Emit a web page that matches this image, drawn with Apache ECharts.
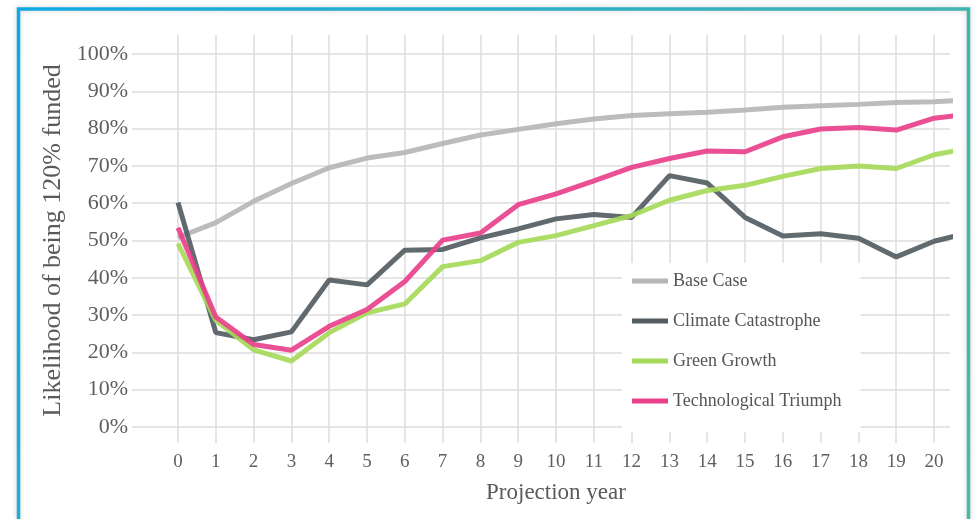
<!DOCTYPE html>
<html>
<head>
<meta charset="utf-8">
<script src="https://cdn.jsdelivr.net/npm/echarts@6/dist/echarts.min.js"></script>
<style>
html,body{margin:0;padding:0;background:#fff;}
#chart{width:975px;height:519px;}
</style>
</head>
<body>
<div id="chart"></div>
<script>
// ---- data ----
const years = [0,1,2,3,4,5,6,7,8,9,10,11,12,13,14,15,16,17,18,19,20,21];
const yTicks = ['0%','10%','20%','30%','40%','50%','60%','70%','80%','90%','100%'];
const xTicks = ['0','1','2','3','4','5','6','7','8','9','10','11','12','13','14','15','16','17','18','19','20'];
const seriesNames = ['Base Case','Climate Catastrophe','Green Growth','Technological Triumph'];
const baseCase = [50.8,54.8,60.5,65.3,69.5,72.1,73.6,76.0,78.3,79.8,81.3,82.6,83.5,84.0,84.4,85.0,85.7,86.1,86.5,87.0,87.2,87.7];
const climateCatastrophe = [60.2,25.3,23.4,25.5,39.4,38.1,47.4,47.6,50.7,53.1,55.8,57.0,56.2,67.4,65.4,56.2,51.2,51.8,50.6,45.6,49.8,52.3];
const greenGrowth = [49.2,28.6,20.7,17.7,25.3,30.6,33.0,43.0,44.6,49.5,51.3,54.0,56.7,60.8,63.4,64.8,67.2,69.3,70.0,69.3,73.0,74.9];
const techTriumph = [53.4,29.5,22.1,20.6,27.0,31.5,39.0,50.1,52.0,59.6,62.5,66.0,69.6,72.0,74.0,73.8,77.8,79.9,80.3,79.6,82.8,84.0];

const colors = ['#b6b6b6','#545d62','#a6d95a','#e8418a'];
const allSeries = [baseCase, climateCatastrophe, greenGrowth, techTriumph];
const serif = '"Liberation Serif", "DejaVu Serif", serif';

const chart = echarts.init(document.getElementById('chart'), null, {renderer:'canvas'});
const gridLine = {show:true, lineStyle:{color:'#dcdcdc', width:1.5}};

const option = {
  animation:false,
  backgroundColor:'#ffffff',
  textStyle:{fontFamily:serif},
  graphic:[{
    type:'rect', z:100, silent:true,
    shape:{x:18.5, y:9, width:950, height:540},
    style:{
      fill:'none', lineWidth:3.5,
      stroke:new echarts.graphic.LinearGradient(0,0,1,1,[
        {offset:0,color:'#12a8e4'},{offset:1,color:'#4fb89e'}
      ]),
      shadowColor:'rgba(0,0,0,0.18)', shadowBlur:5
    }
  }],
  grid:[
    {left:132, right:25, top:54, bottom:92},   // y grid lines
    {left:132, right:25, top:35, bottom:76},   // series
    {left:178, right:41, top:35, bottom:76}    // x grid lines + labels
  ],
  xAxis:[
    {gridIndex:0, type:'value', min:0, max:1, show:false},
    {gridIndex:1, type:'value', min:-1.217, max:20.42, show:false},
    {gridIndex:2, type:'value', min:0, max:20, interval:1,
      axisLine:{show:false}, axisTick:{show:false},
      splitLine:gridLine,
      axisLabel:{color:'#5f5f5f', fontSize:19, fontFamily:serif, margin:10,
        formatter:(v)=>xTicks[v]},
      name:'Projection year', nameLocation:'middle', nameGap:38,
      nameTextStyle:{color:'#5a5a5a', fontSize:23, fontFamily:serif}
    }
  ],
  yAxis:[
    {gridIndex:0, type:'value', min:0, max:100, interval:10,
      axisLine:{show:false}, axisTick:{show:false},
      splitLine:gridLine,
      axisLabel:{color:'#5f5f5f', fontSize:22, fontFamily:serif, margin:4,
        formatter:(v)=>yTicks[Math.round(v/10)]},
      name:'Likelihood of being 120% funded', nameLocation:'middle', nameGap:57,
      nameTextStyle:{color:'#5a5a5a', fontSize:26, fontFamily:serif}
    },
    {gridIndex:1, type:'value', min:-4.29, max:105.1, show:false},
    {gridIndex:2, type:'value', min:0, max:1, show:false}
  ],
  legend:{
    data:seriesNames,
    orient:'vertical',
    left:622, top:263,
    backgroundColor:'#ffffff',
    padding:[8,19,21,10],
    icon:'rect', itemWidth:36, itemHeight:5,
    itemGap:20,
    textStyle:{color:'#555555', fontSize:18, fontFamily:serif, lineHeight:20}
  },
  series: seriesNames.map((n,i)=>({
    name:n, type:'line', xAxisIndex:1, yAxisIndex:1,
    data: years.map((y,j)=>[y, allSeries[i][j]]),
    showSymbol:false, symbol:'none',
    lineStyle:{color:colors[i], width:5, opacity:0.92},
    itemStyle:{color:colors[i]},
    clip:true, z:2+i
  }))
};
chart.setOption(option);
</script>
</body>
</html>
